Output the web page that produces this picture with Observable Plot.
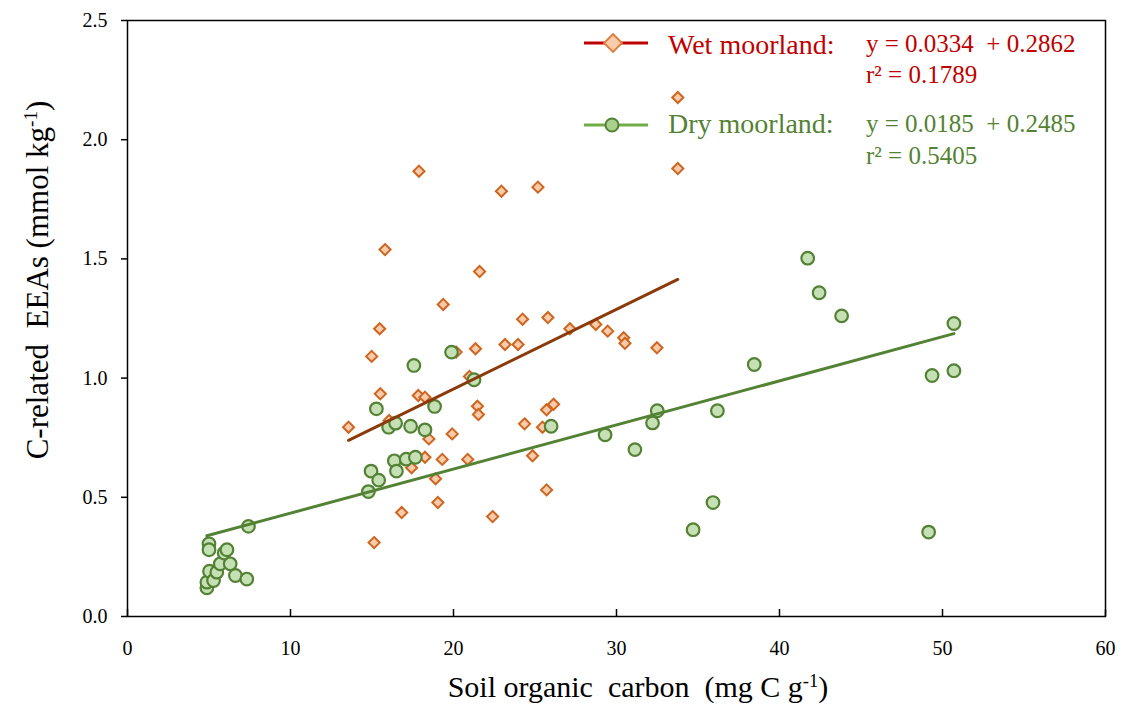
<!DOCTYPE html>
<html>
<head>
<meta charset="utf-8">
<script src="https://cdn.jsdelivr.net/npm/d3@7"></script>
<script src="https://cdn.jsdelivr.net/npm/@observablehq/plot@0.6"></script>
<style>
  html, body { margin: 0; padding: 0; background: #fff; }
  #wrap { position: relative; width: 1125px; height: 704px; font-family: "Liberation Serif", "Times New Roman", serif; }
  #wrap svg, #wrap svg text { font-family: "Liberation Serif", "Times New Roman", serif !important; }
  .ov { position: absolute; white-space: nowrap; line-height: 1; }
  sup { font-size: 0.62em; vertical-align: 0.55em; line-height: 0; }
</style>
</head>
<body>
<div id="wrap"></div>
<script>
// ---- Data ----
const wetX = [13.56, 14.98, 15.13, 15.47, 15.51, 15.80, 16.05, 16.82, 17.43, 17.84, 17.88, 18.25, 18.25, 18.49, 18.90, 19.04, 19.31, 19.37, 19.92, 20.16, 20.87, 20.98, 21.35, 21.47, 21.53, 21.60, 22.40, 22.94, 23.16, 23.96, 24.24, 24.36, 24.85, 25.18, 25.46, 25.71, 25.71, 25.79, 26.14, 27.14, 28.73, 29.46, 30.44, 30.52, 32.48, 33.76, 33.76];
const wetY = [0.794, 1.091, 0.310, 1.207, 0.934, 1.539, 0.822, 0.436, 0.624, 0.927, 1.868, 0.920, 0.668, 0.745, 0.578, 0.478, 0.659, 1.309, 0.766, 1.109, 0.659, 1.007, 1.123, 0.882, 0.847, 1.447, 0.419, 1.784, 1.141, 1.141, 1.247, 0.808, 0.674, 1.801, 0.794, 0.867, 0.531, 1.254, 0.890, 1.207, 1.225, 1.197, 1.169, 1.146, 1.127, 2.177, 1.879];

const dryX = [4.87, 4.87, 5.00, 5.00, 5.03, 5.28, 5.48, 5.69, 5.93, 6.10, 6.30, 6.62, 7.32, 7.42, 14.78, 14.94, 15.27, 15.41, 16.02, 16.37, 16.45, 16.50, 17.10, 17.37, 17.57, 17.66, 18.25, 18.84, 19.88, 21.26, 25.99, 29.30, 31.13, 32.21, 32.50, 34.70, 35.92, 36.19, 38.45, 41.73, 42.43, 43.81, 49.15, 49.36, 50.70, 50.70];
const dryY = [0.120, 0.144, 0.305, 0.280, 0.190, 0.151, 0.186, 0.221, 0.266, 0.280, 0.221, 0.172, 0.157, 0.378, 0.524, 0.610, 0.871, 0.572, 0.794, 0.653, 0.811, 0.610, 0.660, 0.798, 1.053, 0.668, 0.783, 0.881, 1.109, 0.993, 0.798, 0.762, 0.700, 0.812, 0.863, 0.364, 0.478, 0.863, 1.057, 1.503, 1.358, 1.261, 0.354, 1.011, 1.229, 1.031];

// regression coefficients printed on the chart
const wetFit = {slope: 0.0334, intercept: 0.2862, r2: 0.1789};
const dryFit = {slope: 0.0185, intercept: 0.2485, r2: 0.5405};

const xTicks = [0, 10, 20, 30, 40, 50, 60];
const yTicks = [0, 0.5, 1.0, 1.5, 2.0, 2.5];

// ---- Tables built from the arrays ----
const wet = wetX.map((x, i) => ({x, y: wetY[i]}));
const dry = dryX.map((x, i) => ({x, y: dryY[i]}));
const fitLine = (xs, f) => {
  const [a, b] = d3.extent(xs);
  return [a, b].map(x => ({x, y: f.intercept + f.slope * x}));
};
const wetLine = fitLine(wetX, wetFit);
const dryLine = fitLine(dryX, dryFit);

const serif = '"Liberation Serif", "Times New Roman", serif';

const plot = Plot.plot({
  width: 1125,
  height: 704,
  marginLeft: 127,
  marginRight: 20,
  marginTop: 20,
  marginBottom: 88,
  style: {fontFamily: serif, fontSize: "20px", color: "#000", background: "#fff"},
  x: {domain: [0, 60], ticks: xTicks, label: null},
  y: {domain: [0, 2.5], ticks: yTicks, label: null, tickFormat: d3.format(".1f")},
  marks: [
    Plot.axisX({ticks: xTicks, tickSize: -7, tickPadding: 31, strokeWidth: 1.5, label: null, fontSize: 20}),
    Plot.axisY({ticks: yTicks, tickSize: 6, tickPadding: 14, strokeWidth: 1.5, tickFormat: d3.format(".1f"), label: null, fontSize: 20}),
    Plot.dot(wet, {x: "x", y: "y", symbol: "diamond2", r: 5, fill: "#F8CBAD", stroke: "#D0651F", strokeWidth: 2}),
    Plot.dot(dry, {x: "x", y: "y", symbol: "circle", r: 6.3, fill: "#C5E0B4", stroke: "#548235", strokeWidth: 2.2}),
    Plot.line(wetLine, {x: "x", y: "y", stroke: "#8B3A0C", strokeWidth: 3}),
    Plot.line(dryLine, {x: "x", y: "y", stroke: "#548235", strokeWidth: 3}),
    Plot.frame({stroke: "#000", strokeWidth: 1.5})
  ]
});
plot.setAttribute("font-family", serif);

const wrap = document.getElementById("wrap");
wrap.appendChild(plot);
plot.style.position = "absolute";
plot.style.left = "0px";
plot.style.top = "0px";

// ---- Axis titles ----
const xt = document.createElement("div");
xt.className = "ov";
xt.style.cssText = "left:638px; top:672px; transform:translateX(-50%); font-size:30px;";
xt.innerHTML = "Soil organic&nbsp; carbon&nbsp; (mg C g<sup>-1</sup>)";
wrap.appendChild(xt);

const yt = document.createElement("div");
yt.className = "ov";
yt.style.cssText = "left:37px; top:280px; transform:translate(-50%,-50%) rotate(-90deg); font-size:31px;";
yt.innerHTML = "C-related&nbsp; EEAs (mmol kg<sup>-1</sup>)";
wrap.appendChild(yt);

// ---- Legend ----
const ns = "http://www.w3.org/2000/svg";
const lg = document.createElementNS(ns, "svg");
lg.setAttribute("width", 1125); lg.setAttribute("height", 704);
lg.style.cssText = "position:absolute; left:0; top:0; pointer-events:none;";
lg.innerHTML = `
  <line x1="584" x2="648" y1="43" y2="43" stroke="#C00000" stroke-width="3"/>
  <path d="M613,34 L622,43 L613,52 L604,43 Z" fill="#F8CBAD" stroke="#E07B39" stroke-width="1.8"/>
  <line x1="584" x2="648" y1="125" y2="125" stroke="#70AD47" stroke-width="3"/>
  <circle cx="612" cy="125" r="6.5" fill="#A9D18E" stroke="#548235" stroke-width="2"/>`;
wrap.appendChild(lg);

function addText(html, left, top, size, color) {
  const d = document.createElement("div");
  d.className = "ov";
  d.style.cssText = `left:${left}px; top:${top}px; font-size:${size}px; color:${color};`;
  d.innerHTML = html;
  wrap.appendChild(d);
}
const f4 = d3.format(".4f");
addText("Wet moorland:", 668, 31, 28, "#C00000");
addText(`y = ${f4(wetFit.slope)} &nbsp;+ ${f4(wetFit.intercept)}`, 866, 31, 25, "#C00000");
addText(`r² = ${f4(wetFit.r2)}`, 866, 62, 25, "#C00000");
addText("Dry moorland:", 668, 110, 28, "#548235");
addText(`y = ${f4(dryFit.slope)} &nbsp;+ ${f4(dryFit.intercept)}`, 866, 111, 25, "#548235");
addText(`r² = ${f4(dryFit.r2)}`, 866, 143, 25, "#548235");
</script>
</body>
</html>
